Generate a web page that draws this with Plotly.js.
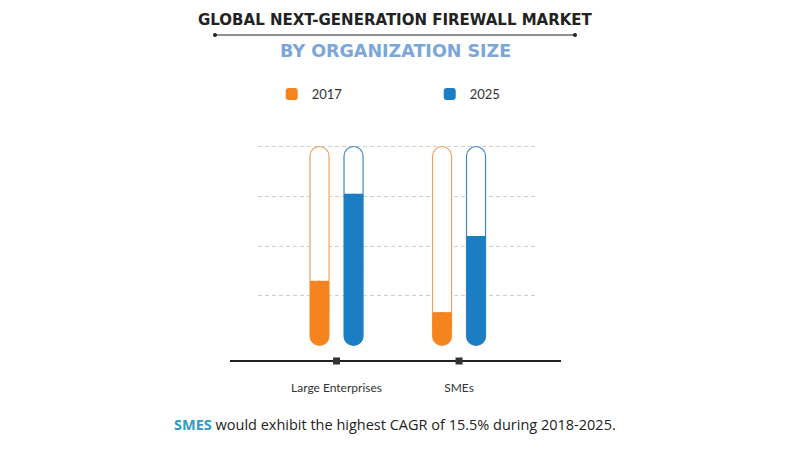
<!DOCTYPE html>
<html>
<head>
<meta charset="utf-8">
<script src="https://cdn.plot.ly/plotly-3.0.1.min.js"></script>
<style>html,body{margin:0;padding:0;background:#fff;}#chart{width:790px;height:461px;}</style>
</head>
<body>
<div id="chart"></div>
<script>
// ---- data ----
const categories = ["Large Enterprises", "SMEs"];
const seriesNames = ["2017", "2025"];
const values2017 = [1.30, 0.67];
const values2025 = [3.05, 2.20];
const scaleMax = 4;
const gridVals = [1, 2, 3, 4];

const colors = {"2017": "#F6841E", "2025": "#1B7DC4"};
const outline = {"2017": "#EFA25E", "2025": "#3F86C2"};

// layout geometry
const W = 790, H = 461;
const M = {l: 258, r: 255, t: 140, b: 100};
const plotW = W - M.l - M.r, plotH = H - M.t - M.b;
const yRange = [-0.312, 4.131];
const xRange = [-0.641, 1.620];
const px = p => (p - M.l) / plotW;         // pixel x -> paper
const py = p => (H - M.b - p) / plotH;     // pixel y -> paper

function seriesTraces(name, vals) {
  const zeros = vals.map(() => 0);
  // tube: full-height capsule (bars with an explicit base get both ends rounded)
  const tube = {
    type: "bar", name: name, x: categories,
    base: zeros, y: vals.map(() => scaleMax),
    offsetgroup: name,
    marker: {color: "#ffffff", cornerradius: "50%", line: {width: 1.2, color: outline[name]}},
    hoverinfo: "skip", showlegend: false, legendgroup: name
  };
  // filled capsule from 0 to the value
  const fillRound = {
    type: "bar", name: name, x: categories,
    base: zeros, y: vals,
    offsetgroup: name,
    marker: {color: colors[name], cornerradius: "50%", line: {width: 0}},
    hoverinfo: "skip", showlegend: true, legendgroup: name
  };
  // square-ended upper half of the fill, so the fill level is flat
  const fillSquare = {
    type: "bar", name: name, x: categories,
    base: vals.map(v => v / 2), y: vals.map(v => v / 2),
    offsetgroup: name,
    marker: {color: colors[name], line: {width: 0}},
    hoverinfo: "skip", showlegend: false, legendgroup: name
  };
  return [tube, fillRound, fillSquare];
}

const ticksTrace = {
  type: "scatter", mode: "markers", x: categories,
  y: categories.map(() => yRange[0]),
  marker: {symbol: "square", size: 7, color: "#333333"},
  cliponaxis: false, showlegend: false, hoverinfo: "skip"
};

const data = [
  ...seriesTraces("2017", values2017),
  ...seriesTraces("2025", values2025),
  ticksTrace
];

const layout = {
  width: W, height: H,
  margin: M,
  paper_bgcolor: "#ffffff", plot_bgcolor: "rgba(0,0,0,0)",
  barmode: "group", bargap: 0.445, bargroupgap: 0.44,
  showlegend: true,
  legend: {
    orientation: "h",
    x: -0.001, xanchor: "left", y: py(94), yanchor: "middle",
    borderwidth: 14, bordercolor: "rgba(0,0,0,0)", bgcolor: "rgba(0,0,0,0)",
    entrywidth: 113, entrywidthmode: "pixels",
    font: {family: "Lato, 'Open Sans', sans-serif", size: 13, color: "#333333"},
    traceorder: "normal"
  },
  xaxis: {
    type: "category", range: xRange, fixedrange: true,
    showline: false, showgrid: false, zeroline: false, ticks: "",
    ticklabelstandoff: 18,
    tickfont: {family: "Lato, 'Open Sans', sans-serif", size: 12, color: "#333333"}
  },
  yaxis: {
    range: yRange, fixedrange: true, showticklabels: false, zeroline: false,
    tickmode: "array", tickvals: gridVals, showgrid: true,
    gridcolor: "#cfcfcf", griddash: "4px,3px", gridwidth: 1
  },
  shapes: [
    {type: "line", xref: "paper", yref: "paper", x0: px(230), x1: px(561), y0: py(361), y1: py(361),
     line: {color: "#222222", width: 2}, layer: "below"},
    {type: "line", xref: "paper", yref: "paper", x0: px(215), x1: px(575), y0: py(35), y1: py(35),
     line: {color: "#222222", width: 1.2}},
    {type: "circle", xref: "paper", yref: "paper", x0: px(213), x1: px(217), y0: py(33), y1: py(37),
     fillcolor: "#222222", line: {width: 0}},
    {type: "circle", xref: "paper", yref: "paper", x0: px(573), x1: px(577), y0: py(33), y1: py(37),
     fillcolor: "#222222", line: {width: 0}}
  ],
  annotations: [
    {text: "GLOBAL NEXT-GENERATION FIREWALL MARKET", xref: "paper", yref: "paper",
     x: px(395), y: py(20), xanchor: "center", yanchor: "middle", showarrow: false,
     font: {family: "'DejaVu Sans', sans-serif", size: 15, color: "#222222", weight: 700}},
    {text: "BY ORGANIZATION SIZE", xref: "paper", yref: "paper",
     x: px(395), y: py(51), xanchor: "center", yanchor: "middle", showarrow: false,
     font: {family: "'DejaVu Sans', sans-serif", size: 17.5, color: "#7BA6DB", weight: 700}},
    {text: "<b><span style='color:#2F9AC4'>SMES</span></b> would exhibit the highest CAGR of 15.5% during 2018-2025.",
     xref: "paper", yref: "paper", x: px(395), y: py(424), xanchor: "center", yanchor: "middle",
     showarrow: false, font: {family: "'Open Sans', sans-serif", size: 14.5, color: "#222222"}}
  ]
};

Plotly.newPlot("chart", data, layout, {displayModeBar: false, staticPlot: true});
</script>
</body>
</html>
